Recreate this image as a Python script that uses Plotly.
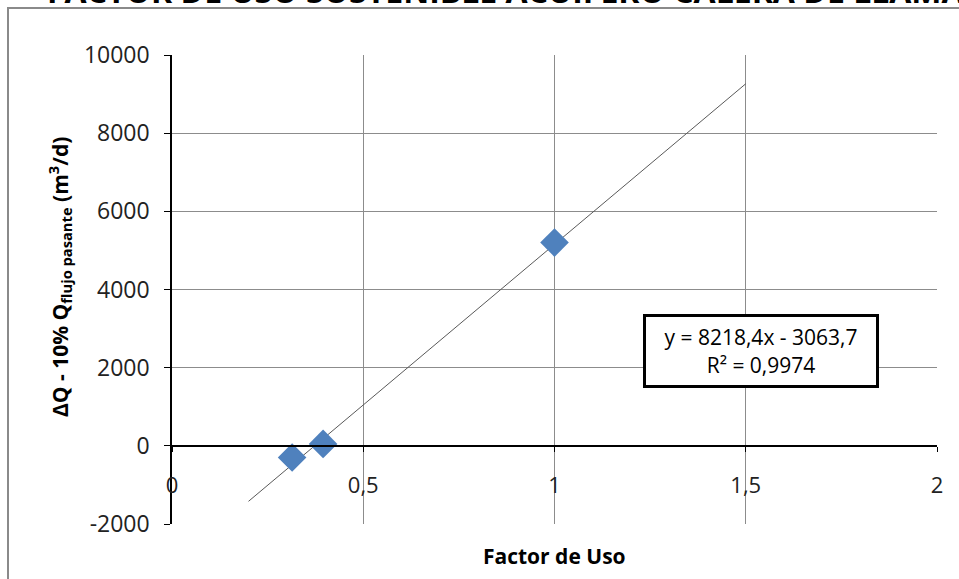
import plotly.graph_objects as go
import numpy as np

# Data
factor_uso = [0.314, 0.395, 1.0]
delta_q = [-300, 50, 5200]
trend_slope = 8218.4
trend_intercept = -3063.7
trend_x_range = [0.2, 1.5]
eq_text = "y = 8218,4x - 3063,7<br>R² = 0,9974"
x_ticks = [0, 0.5, 1, 1.5, 2]
x_ticklabels = ["0", "0,5", "1", "1,5", "2"]
y_ticks = [-2000, 0, 2000, 4000, 6000, 8000, 10000]
y_ticklabels = ["-2000", "0", "2000", "4000", "6000", "8000", "10000"]
title_text = "FACTOR DE USO SOSTENIBLE ACUÍFERO CALERA DE LLAMAN"

FONT = "Open Sans"
GRID = "#8c8c8c"
TXT = "#222"

tx = np.array(trend_x_range)
ty = trend_slope * tx + trend_intercept

fig = go.Figure()
fig.add_trace(go.Scatter(x=list(tx), y=list(ty), mode="lines",
                         line=dict(color="#595959", width=1), hoverinfo="skip", showlegend=False))
fig.add_trace(go.Scatter(x=factor_uso, y=delta_q, mode="markers",
                         marker=dict(symbol="diamond", size=22, color="#4F81BD",
                                     line=dict(width=0)), showlegend=False))

fig.update_layout(
    width=959, height=579,
    margin=dict(l=172, r=22, t=55, b=55),
    paper_bgcolor="white", plot_bgcolor="white",
    font=dict(family=FONT, size=22, color=TXT),
    xaxis=dict(range=[0, 2], tickvals=x_ticks, ticktext=x_ticklabels,
               anchor="free", position=2000/12000,
               showline=True, linecolor="black", linewidth=1.5,
               ticks="outside", ticklen=5, tickcolor="black",
               showgrid=True, gridcolor=GRID, gridwidth=1, zeroline=False,
               ticklabelstandoff=15,
               tickfont=dict(family=FONT, size=22, color=TXT)),
    yaxis=dict(range=[-2000, 10000], tickvals=y_ticks, ticktext=y_ticklabels,
               showline=True, linecolor="black", linewidth=1.5,
               ticks="outside", ticklen=6, tickcolor="black",
               showgrid=True, gridcolor=GRID, gridwidth=1, zeroline=False,
               ticklabelstandoff=10,
               tickfont=dict(family=FONT, size=23, color=TXT),
               automargin=False),
)

# y axis title
fig.add_annotation(text="<b>ΔQ - 10% Q<sub>flujo pasante</sub> (m<sup>3</sup>/d)</b>",
                   xref="paper", yref="paper", x=-0.1464, y=0.5267,
                   xanchor="center", yanchor="middle", textangle=-90, showarrow=False,
                   font=dict(family=FONT, size=21, color="black"))

# x axis title
fig.add_annotation(text="<b>Factor de Uso</b>", xref="paper", yref="paper",
                   x=0.5, y=-0.068, xanchor="center", yanchor="middle", showarrow=False,
                   font=dict(family=FONT, size=21, color="black"))

# equation box
fig.add_annotation(text=eq_text, xref="paper", yref="paper", x=0.77, y=0.369,
                   xanchor="center", yanchor="middle",
                   showarrow=False, align="center",
                   font=dict(family=FONT, size=21, color="black"),
                   bordercolor="black", borderwidth=3, borderpad=3, bgcolor="white",
                   width=224, height=62)

# cropped title
fig.add_annotation(text="<b>" + title_text + "</b>", xref="paper", yref="paper",
                   x=-0.166, y=1.1375, xanchor="left", yanchor="middle", showarrow=False,
                   font=dict(family=FONT, size=32, color="black"))

# outer chart-area border
fig.add_shape(type="rect", xref="paper", yref="paper",
              x0=(8 - 172) / 765, y0=-0.3, x1=1.2, y1=(524 - 8) / 469,
              line=dict(color="#8a8a8a", width=2), layer="below")

fig.write_html("out.html", config={"displayModeBar": False},
               post_script="document.body.style.margin='0';")
